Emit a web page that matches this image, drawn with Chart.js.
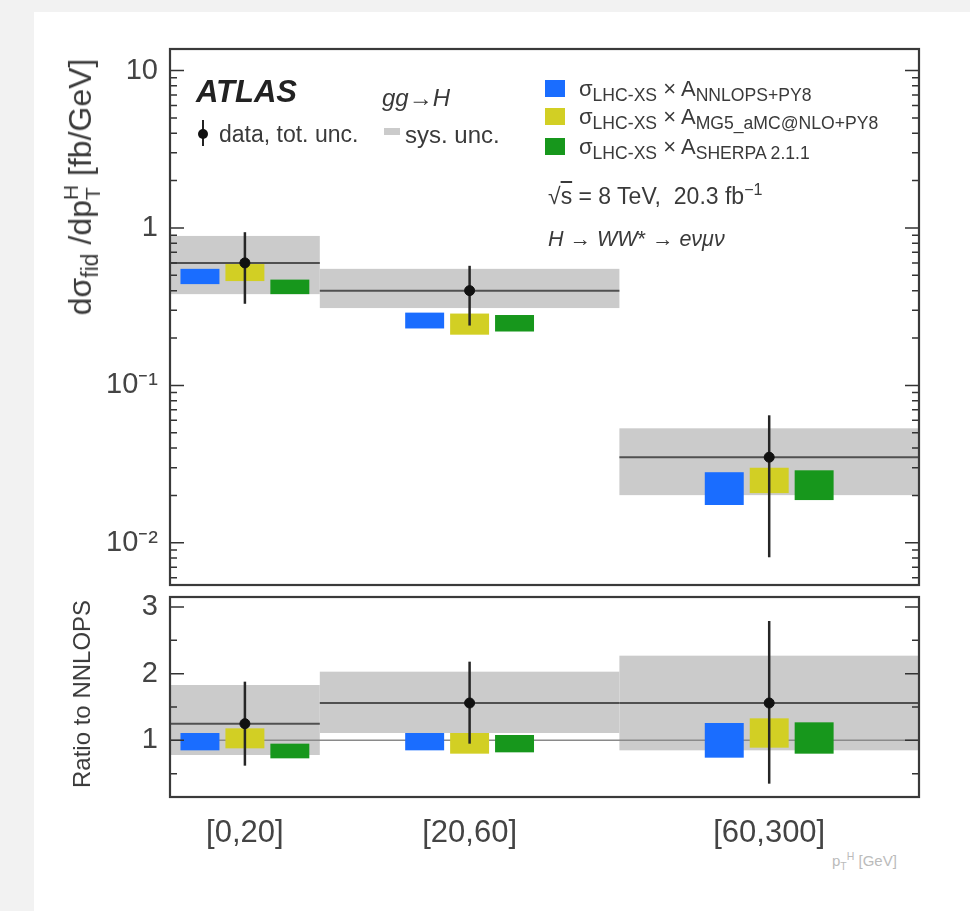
<!DOCTYPE html>
<html>
<head>
<meta charset="utf-8">
<script src="https://cdn.jsdelivr.net/npm/chart.js@4.4.0/dist/chart.umd.min.js"></script>
<style>
    body { margin: 0; background: #f2f2f2; font-family: "Liberation Sans", Arial, sans-serif; }
    #page { position: absolute; left: 34px; top: 12px; width: 936px; height: 899px; background: #fff; }
    canvas { position: absolute; }
    .t { position: absolute; color: #3a3a3a; white-space: nowrap; line-height: 1; }
    .t sub, .t sup { font-size: 0.7em; line-height: 0; }
    .lg sub { font-size: 0.8em; }
    .sq { position: absolute; width: 20px; height: 17px; }
</style>
</head>
<body>
<div id="page"></div>
<canvas id="topChart" width="885" height="560" style="left:40px; top:37px;"></canvas>
<canvas id="ratioChart" width="885" height="260" style="left:40px; top:590px;"></canvas>

<!-- axis titles -->
<div class="t" style="left:82px; top:187px; font-size:32px; transform:translate(-50%,-50%) rotate(-90deg);">
    dσ<sub style="font-size:0.72em;">fid</sub> /dp<span style="display:inline-flex; flex-direction:column; vertical-align:middle; font-size:21px; line-height:1.05;"><span>H</span><span>T</span></span> [fb/GeV]
</div>
<div class="t" style="left:82px; top:694px; font-size:24px; transform:translate(-50%,-50%) rotate(-90deg);">Ratio to NNLOPS</div>
<div class="t" style="left:832px; top:853px; font-size:15px; color:#bbb;">p<sub>T</sub><sup>H</sup> [GeV]</div>

<!-- legend / labels inside top panel -->
<div class="t" style="left:196px; top:76px; font-size:31px; font-weight:bold; font-style:italic; color:#222;">ATLAS</div>
<div class="t" style="left:382px; top:86px; font-size:24px;"><i>gg</i>→<i>H</i></div>
<div style="position:absolute; left:202px; top:120px; width:2px; height:26px; background:#222;"></div>
<div style="position:absolute; left:198px; top:129px; width:10px; height:10px; border-radius:50%; background:#111;"></div>
<div class="t" style="left:219px; top:123px; font-size:23px;">data, tot. unc.</div>
<div style="position:absolute; left:384px; top:128px; width:16px; height:7px; background:#cbcbcb;"></div>
<div class="t" style="left:405px; top:123px; font-size:24px;">sys. unc.</div>

<div class="sq" style="left:545px; top:80px; background:#1a6dff;"></div>
<div class="t lg" style="left:579px; top:78px; font-size:22px;">σ<sub>LHC-XS</sub> × A<sub>NNLOPS+PY8</sub></div>
<div class="sq" style="left:545px; top:108px; background:#d2cf24;"></div>
<div class="t lg" style="left:579px; top:106px; font-size:22px;">σ<sub>LHC-XS</sub> × A<sub>MG5_aMC@NLO+PY8</sub></div>
<div class="sq" style="left:545px; top:138px; background:#17971c;"></div>
<div class="t lg" style="left:579px; top:136px; font-size:22px;">σ<sub>LHC-XS</sub> × A<sub>SHERPA 2.1.1</sub></div>
<div class="t" style="left:548px; top:185px; font-size:23px;">√<span style="text-decoration:overline;">s</span> = 8 TeV,&nbsp; 20.3 fb<sup>−1</sup></div>
<div class="t" style="left:548px; top:229px; font-size:21.5px;"><i>H</i> → <i>WW</i>* → <i>eνμν</i></div>

<script>
// ---- data ----
const bins = ['[0,20]', '[20,60]', '[60,300]'];
const binEdges = [0, 20, 60, 100];          // axis units (drawn widths 1:2:2)

const yTickVals = [0.01, 0.1, 1, 10];
const yTickLabels = ['10⁻²', '10⁻¹', '1', '10'];
const ratioTickVals = [1, 2, 3];
const ratioTickLabels = ['1', '2', '3'];

// top panel: dsigma/dpT [fb/GeV]
const dataVal   = [0.60, 0.40, 0.035];
const dataErrLo = [0.33, 0.24, 0.0081];
const dataErrHi = [0.94, 0.575, 0.0646];
const sysLo     = [0.38, 0.31, 0.0201];
const sysHi     = [0.89, 0.55, 0.0534];
const nnlopsLo  = [0.44, 0.23, 0.0174];
const nnlopsHi  = [0.55, 0.29, 0.0281];
const mg5Lo     = [0.46, 0.21, 0.0207];
const mg5Hi     = [0.59, 0.286, 0.030];
const sherpaLo  = [0.38, 0.22, 0.0187];
const sherpaHi  = [0.47, 0.28, 0.0289];

// bottom panel: ratio to NNLOPS
const rDataVal   = [1.25, 1.56, 1.56];
const rDataErrLo = [0.62, 0.95, 0.35];
const rDataErrHi = [1.88, 2.18, 2.79];
const rSysLo     = [0.78, 1.11, 0.85];
const rSysHi     = [1.83, 2.03, 2.27];
const rNnlopsLo  = [0.85, 0.85, 0.74];
const rNnlopsHi  = [1.11, 1.11, 1.26];
const rMg5Lo     = [0.88, 0.80, 0.89];
const rMg5Hi     = [1.18, 1.11, 1.33];
const rSherpaLo  = [0.73, 0.82, 0.80];
const rSherpaHi  = [0.95, 1.08, 1.27];

// ---- styles ----
const BLUE = '#1a6dff', YELLOW = '#d2cf24', GREEN = '#17971c', SYS = '#cbcbcb';
const predOffset = [-6, 0, 6];   // x offset of the three predictions inside a bin (axis units)
const boxW = 5.2;
const binCenters = bins.map((b, i) => (binEdges[i] + binEdges[i + 1]) / 2);

const hepPlugin = {
    id: 'hep',
    beforeDatasetsDraw(chart, args, o) {
        const { ctx, chartArea: a, scales: { x, y } } = chart;
        ctx.save();
        ctx.beginPath();
        ctx.rect(a.left, a.top, a.right - a.left, a.bottom - a.top);
        ctx.clip();

        // systematic band + data level across each bin
        bins.forEach((b, i) => {
            const x0 = x.getPixelForValue(binEdges[i]);
            const x1 = x.getPixelForValue(binEdges[i + 1]);
            const yt = y.getPixelForValue(o.sysHi[i]);
            const yb = y.getPixelForValue(o.sysLo[i]);
            ctx.fillStyle = SYS;
            ctx.fillRect(x0, yt, x1 - x0, yb - yt);
        });
        if (o.unity) {
            const y1 = y.getPixelForValue(1);
            ctx.strokeStyle = '#8a8a8a';
            ctx.lineWidth = 1.5;
            ctx.beginPath(); ctx.moveTo(a.left, y1); ctx.lineTo(a.right, y1); ctx.stroke();
        }
        bins.forEach((b, i) => {
            const x0 = x.getPixelForValue(binEdges[i]);
            const x1 = x.getPixelForValue(binEdges[i + 1]);
            const yd = y.getPixelForValue(o.val[i]);
            ctx.strokeStyle = '#505050';
            ctx.lineWidth = 2;
            ctx.beginPath(); ctx.moveTo(x0, yd); ctx.lineTo(x1, yd); ctx.stroke();
        });

        // prediction boxes
        o.preds.forEach((p, k) => {
            ctx.fillStyle = p.color;
            bins.forEach((b, i) => {
                const xc = binCenters[i] + predOffset[k];
                const x0 = x.getPixelForValue(xc - boxW / 2);
                const x1 = x.getPixelForValue(xc + boxW / 2);
                const yt = y.getPixelForValue(p.hi[i]);
                const yb = y.getPixelForValue(p.lo[i]);
                ctx.fillRect(x0, yt, x1 - x0, yb - yt);
            });
        });

        // data error bars
        ctx.strokeStyle = '#262626';
        ctx.lineWidth = 2.5;
        bins.forEach((b, i) => {
            const xp = x.getPixelForValue(binCenters[i]);
            ctx.beginPath();
            ctx.moveTo(xp, y.getPixelForValue(o.errHi[i]));
            ctx.lineTo(xp, y.getPixelForValue(o.errLo[i]));
            ctx.stroke();
        });
        ctx.restore();
    },
    afterDraw(chart, args, o) {
        const { ctx, chartArea: a, scales: { y } } = chart;
        ctx.save();
        ctx.strokeStyle = '#333';
        ctx.lineWidth = 1.5;
        const tick = (v, len) => {
            const py = y.getPixelForValue(v);
            if (py < a.top - 0.5 || py > a.bottom + 0.5) return;
            ctx.beginPath();
            ctx.moveTo(a.left, py); ctx.lineTo(a.left + len, py);
            ctx.moveTo(a.right, py); ctx.lineTo(a.right - len, py);
            ctx.stroke();
        };
        o.major.forEach(v => tick(v, 14));
        o.minor.forEach(v => tick(v, 7));
        ctx.strokeStyle = '#3a3a3a';
        ctx.lineWidth = 2.2;
        ctx.strokeRect(a.left, a.top, a.right - a.left, a.bottom - a.top);
        ctx.restore();
    }
};

const logMinor = [];
[0.001, 0.01, 0.1, 1].forEach(d => { for (let k = 2; k <= 9; k++) logMinor.push(d * k); });

function yScale(type, min, max, vals, labels) {
    return {
        type, min, max,
        afterFit: s => { s.width = 130; s.paddingTop = 0; s.paddingBottom = 0; },
        afterBuildTicks: s => { s.ticks = vals.map(v => ({ value: v })); },
        border: { display: false },
        grid: { display: false },
        ticks: {
            padding: 4,
            color: '#444',
            font: { family: 'Liberation Sans', size: 29 },
            callback: (v) => labels[vals.indexOf(v)]
        }
    };
}

function points(vals) {
    return binCenters.map((c, i) => ({ x: c, y: vals[i] }));
}

const preds = (lo1, hi1, lo2, hi2, lo3, hi3) => [
    { color: BLUE, lo: lo1, hi: hi1 },
    { color: YELLOW, lo: lo2, hi: hi2 },
    { color: GREEN, lo: lo3, hi: hi3 }
];

new Chart(document.getElementById('topChart'), {
    type: 'scatter',
    data: { datasets: [{ data: points(dataVal), pointRadius: 5, pointBackgroundColor: '#111', pointBorderColor: '#111' }] },
    plugins: [hepPlugin],
    options: {
        responsive: false,
        animation: false,
        layout: { padding: { top: 12, right: 5, bottom: 12, left: 0 } },
        plugins: {
            legend: { display: false },
            tooltip: { enabled: false },
            hep: {
                val: dataVal, errLo: dataErrLo, errHi: dataErrHi, sysLo, sysHi,
                preds: preds(nnlopsLo, nnlopsHi, mg5Lo, mg5Hi, sherpaLo, sherpaHi),
                major: yTickVals, minor: logMinor, unity: false
            }
        },
        scales: {
            x: { type: 'linear', min: binEdges[0], max: binEdges[3], display: false },
            y: yScale('logarithmic', 0.0054, 13.7, yTickVals, yTickLabels)
        }
    }
});

new Chart(document.getElementById('ratioChart'), {
    type: 'scatter',
    data: { datasets: [{ data: points(rDataVal), pointRadius: 5, pointBackgroundColor: '#111', pointBorderColor: '#111' }] },
    plugins: [hepPlugin],
    options: {
        responsive: false,
        animation: false,
        layout: { padding: { top: 7, right: 5, bottom: 0, left: 0 } },
        plugins: {
            legend: { display: false },
            tooltip: { enabled: false },
            hep: {
                val: rDataVal, errLo: rDataErrLo, errHi: rDataErrHi, sysLo: rSysLo, sysHi: rSysHi,
                preds: preds(rNnlopsLo, rNnlopsHi, rMg5Lo, rMg5Hi, rSherpaLo, rSherpaHi),
                major: ratioTickVals, minor: [0.5, 1.5, 2.5], unity: true
            }
        },
        scales: {
            x: {
                type: 'linear', min: binEdges[0], max: binEdges[3],
                afterFit: s => { s.height = 53; s.paddingLeft = 0; s.paddingRight = 0; },
                afterBuildTicks: s => { s.ticks = binCenters.map(v => ({ value: v })); },
                border: { display: false },
                grid: { display: false },
                ticks: {
                    padding: 10,
                    maxRotation: 0,
                    color: '#444',
                    font: { family: 'Liberation Sans', size: 31 },
                    callback: (v) => bins[binCenters.indexOf(v)]
                }
            },
            y: yScale('linear', 0.15, 3.15, ratioTickVals, ratioTickLabels)
        }
    }
});
</script>
</body>
</html>
